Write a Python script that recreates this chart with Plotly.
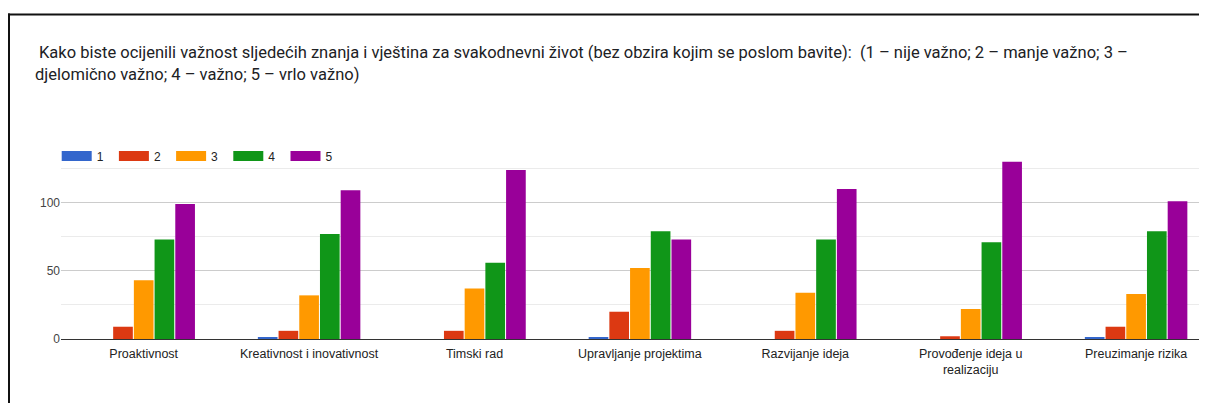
import plotly.graph_objects as go

categories = [
    "Proaktivnost",
    "Kreativnost i inovativnost",
    "Timski rad",
    "Upravljanje projektima",
    "Razvijanje ideja",
    "Provođenje ideja u<br>realizaciju",
    "Preuzimanje rizika",
]
series_names = ["1", "2", "3", "4", "5"]
values_1 = [0, 1, 0, 1, 0, 0, 1]
values_2 = [9, 6, 6, 20, 6, 2, 9]
values_3 = [43, 32, 37, 52, 34, 22, 33]
values_4 = [73, 77, 56, 79, 73, 71, 79]
values_5 = [99, 109, 124, 73, 110, 130, 101]
colors = ["#3366cc", "#dc3912", "#ff9900", "#109618", "#990099"]

title_line1 = "Kako biste ocijenili važnost sljedećih znanja i vještina za svakodnevni život (bez obzira kojim se poslom bavite):  (1 – nije važno; 2 – manje važno; 3 –"
title_line2 = "djelomično važno; 4 – važno; 5 – vrlo važno)"

# the page body has an 8px margin; the figure is sized to fit the window
OFF = 8
W, H = 1207 - 2 * OFF, 411 - 2 * OFF
L = 61 - OFF
T = 159 - OFF
B = H - (339 - OFF)
R = 0
PW = W - L - R
PH = H - T - B


def px_x(p):
    # p: window pixel x
    return (p - OFF - L) / PW


def px_y(p):
    # p: window pixel y
    return (H - B - (p - OFF)) / PH


cat_px = 165.4
x_hi = -0.5 + PW / cat_px

all_values = [values_1, values_2, values_3, values_4, values_5]
fig = go.Figure()
for name, vals, col in zip(series_names, all_values, colors):
    fig.add_trace(go.Bar(
        x=categories, y=vals, name=name, marker=dict(color=col, line=dict(width=0)),
        showlegend=False, legendgroup=name,
    ))
for name, col in zip(series_names, colors):
    fig.add_trace(go.Scatter(
        x=[None], y=[None], mode="lines", name=name,
        line=dict(color=col, width=11), legendgroup=name, showlegend=True,
    ))

fig.update_layout(
    width=W, height=H,
    margin=dict(l=L, r=R, t=T, b=B, pad=0),
    paper_bgcolor="white", plot_bgcolor="white",
    barmode="group", bargap=0.374, bargroupgap=0.05,
    font=dict(family="Liberation Sans, Arial, sans-serif", size=12, color="#222222"),
    showlegend=True,
    legend=dict(
        orientation="h", x=px_x(56.7), xanchor="left", y=px_y(156), yanchor="middle",
        font=dict(size=12, color="#222222"), entrywidth=12.2, entrywidthmode="pixels",
        bgcolor="rgba(0,0,0,0)", borderwidth=0,
    ),
    xaxis=dict(
        type="category", range=[-0.5, x_hi], showgrid=False, showline=False,
        ticks="", ticklabelstandoff=5, tickfont=dict(size=12.5, color="#222222"),
        fixedrange=True,
    ),
    yaxis=dict(
        range=[0, 132], dtick=50, tick0=0, showgrid=True, gridcolor="#cccccc", gridwidth=1,
        zeroline=True, zerolinecolor="#333333", zerolinewidth=1, showline=False,
        ticks="", ticklabelstandoff=0, tickfont=dict(size=12, color="#444444"),
        minor=dict(dtick=25, tick0=0, showgrid=True, gridcolor="#ebebeb", gridwidth=1),
    ),
    annotations=[
        dict(text=title_line1, xref="paper", yref="paper", x=px_x(36.5), y=px_y(52.5),
             xanchor="left", yanchor="middle", showarrow=False,
             font=dict(family="Roboto, sans-serif", size=16.5, color="#202124")),
        dict(text=title_line2, xref="paper", yref="paper", x=px_x(33), y=px_y(74.5),
             xanchor="left", yanchor="middle", showarrow=False,
             font=dict(family="Roboto, sans-serif", size=16.5, color="#202124")),
    ],
    shapes=[
        dict(type="line", xref="paper", yref="paper", x0=px_x(7), x1=px_x(1210),
             y0=px_y(14.5), y1=px_y(14.5), line=dict(color="#111111", width=2)),
        dict(type="line", xref="paper", yref="paper", x0=px_x(9), x1=px_x(9),
             y0=px_y(13.5), y1=px_y(420), line=dict(color="#111111", width=2)),
    ],
)

fig.write_html("out.html")
